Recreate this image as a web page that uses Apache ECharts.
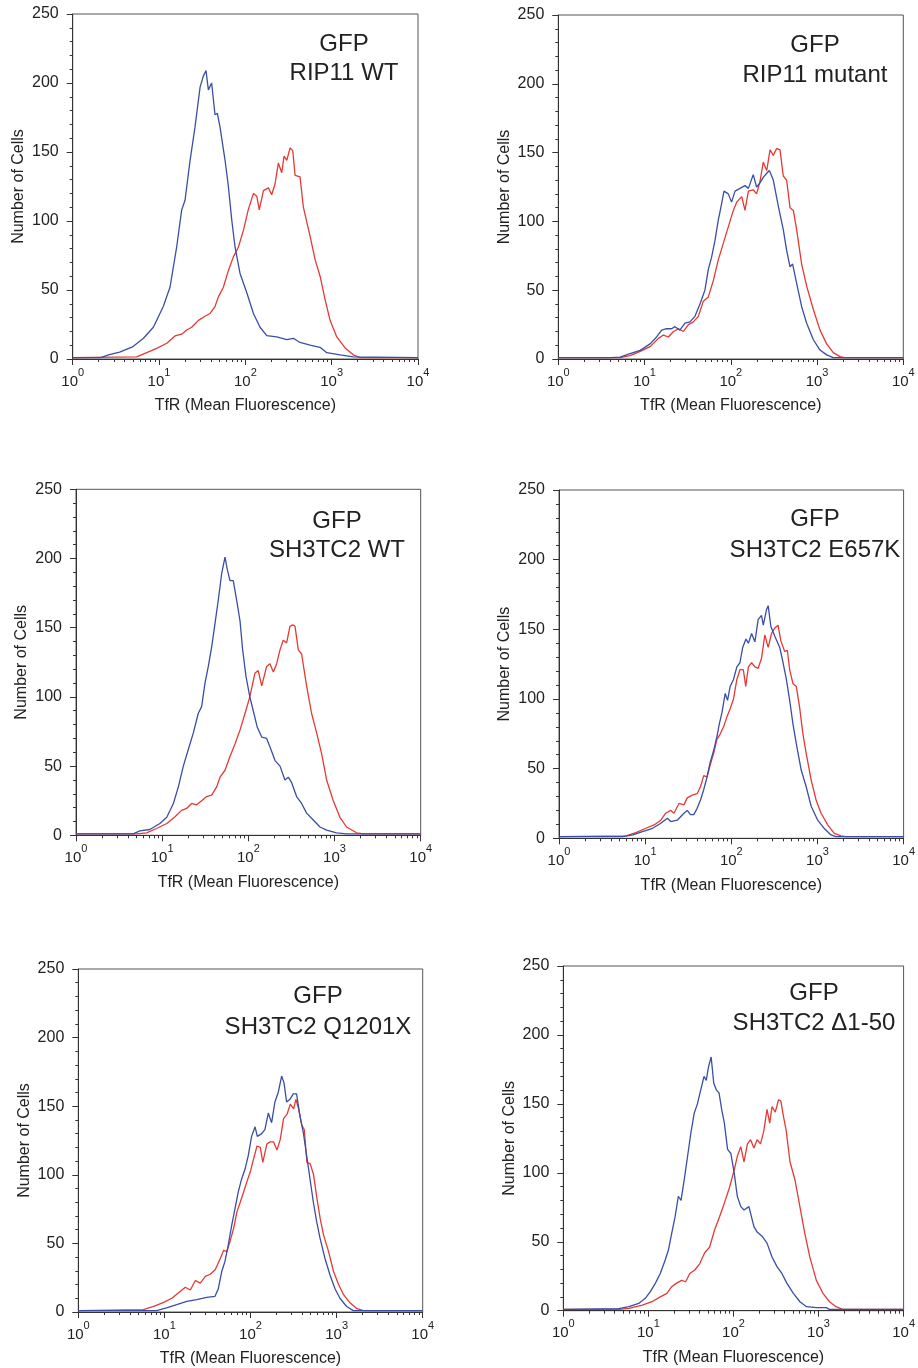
<!DOCTYPE html>
<html>
<head>
<meta charset="utf-8">
<script src="https://cdn.jsdelivr.net/npm/echarts@6/dist/echarts.min.js"></script>
<style>
html,body{margin:0;padding:0;background:#fff;}
#chart{width:918px;height:1368px;}
</style>
</head>
<body>
<div id="chart"></div>
<script>
// ---------- DATA ----------
const panelTitles = [
  ['GFP', 'RIP11 WT'],
  ['GFP', 'RIP11 mutant'],
  ['GFP', 'SH3TC2 WT'],
  ['GFP', 'SH3TC2 E657K'],
  ['GFP', 'SH3TC2 Q1201X'],
  ['GFP', 'SH3TC2 \u03941-50']
];
const xAxisName = 'TfR (Mean Fluorescence)';
const yAxisName = 'Number of Cells';
const xMajorTicks = [1, 10, 100, 1000, 10000];
const xMinorTicks = [2,3,4,5,6,7,8,9,20,30,40,50,60,70,80,90,200,300,400,500,600,700,800,900,2000,3000,4000,5000,6000,7000,8000,9000];
const yTicks = [0, 50, 100, 150, 200, 250];

// [fluorescence, number of cells]
const rip11WtRed = [[1,1],[5.5,1.5],[7.2,4.6],[9.4,7.7],[12.3,11.4],[15.3,16.7],[18.3,18],[20.9,21],[23.9,23],[28.6,28],[34.1,31],[39,33],[44.5,38],[48.7,45],[55.6,52],[63.6,64],[72.6,74],[83,81],[94.8,93],[108,108],[124,120],[135.6,118],[145,108],[162,122],[185,124],[202,119],[221,127],[241,142],[264,135],[281,147],[302,144],[330,153],[354,151],[377,133],[430,132],[470,110],[562,89],[643,72],[734,60],[839,43],[958,28],[1146,16],[1430,8],[1782,3],[2133,1],[10000,1]];
const rip11WtBlue = [[1,1],[2.1,1],[2.6,3],[3.5,5],[5,9],[6.6,15],[8.6,23],[11.2,38],[13.4,52],[16,81],[18.3,108],[20,115],[22.9,144],[26.1,168],[29.9,197],[32.6,205],[35,209],[37.3,195],[40.7,200],[44.5,177],[47.4,178],[50.9,168],[58.2,144],[63.6,125],[69.5,101],[76,81],[86.8,62],[104,48],[124,33],[148,23],[177,17],[231,16],[302,14],[360,15],[430,12],[562,10],[734,8.5],[877,4.6],[1250,3],[1780,1.5],[10000,1]];

const rip11MutRed = [[1,1],[5.2,1],[6.8,2.4],[8.9,5.5],[11.6,9],[14.5,15],[16.5,17.4],[18.9,16],[21.6,20],[24.7,22],[28.2,20],[32.2,25],[36.8,27],[42,31],[48,42],[54.8,45],[62.7,57],[71.6,72],[81.8,84],[93.5,96],[107,108],[117,114],[134,118],[146,108],[160,122],[182,123],[199,120],[218,129],[238,143],[261,137],[285,152],[311,148],[340,153],[372,152],[406,133],[444,130],[486,110],[531,108],[580,94],[663,69],[758,53],[906,36],[1082,21],[1292,11],[1543,4.6],[1845,1.7],[2100,1],[10000,1]];
const rip11MutBlue = [[1,1],[4,1],[5.2,1.4],[6.8,3.9],[8.9,6.3],[11.6,11],[13.8,16],[15.8,21],[18,22],[20.6,22],[22.5,23.5],[25.7,21],[29.4,26],[33.6,27],[38.4,31],[43.9,40],[50.1,50],[54.8,65],[59.9,74],[65.5,86],[71.6,101],[78.3,113],[83.4,122],[93.5,120],[102,114],[112,122],[128,124],[146,126],[160,124],[182,134],[199,125],[218,128],[238,132],[261,135],[280,137],[311,130],[356,111],[406,94],[444,79],[486,67],[521,69],[580,55],[663,38],[758,26],[906,14],[1082,6.5],[1292,3],[1543,1],[10000,1]];

const sh3tc2WtRed = [[1,1],[5.1,1],[6.6,1.8],[8.6,4.9],[11.3,8.5],[14.1,13.4],[16.8,18],[19.2,19.4],[22,23],[25.1,22],[28.7,25],[32.8,28],[37.5,29],[42.9,35],[46.9,42],[53.6,47],[61.2,57],[70,66],[80,76],[91.4,88],[104,100],[119,117],[130,119],[143,108],[163,122],[178,124],[195,118],[213,124],[233,134],[254,141],[278,139],[304,151],[327,152],[348,151],[380,134],[415,131],[474,108],[542,88],[620,74],[708,59],[810,40],[967,25],[1156,13],[1380,6],[1803,1.8],[2154,1],[10000,1]];
const sh3tc2WtBlue = [[1,1],[4.6,1],[5.5,3.2],[7.2,4.2],[9.4,8.5],[11.3,13],[13.5,23],[15.4,35],[17.6,50],[20.1,62],[23,74],[26.2,88],[28.7,93],[31.4,110],[34.3,122],[37.5,136],[41,153],[44.8,170],[49,189],[53.6,201],[57,192],[61.2,184],[66.8,184],[73.1,170],[80,155],[85.9,134],[93.8,115],[104,100],[114,90],[127,78],[143,71],[163,70],[178,64],[204,54],[233,50],[266,40],[291,42],[318,38],[363,28],[415,23],[474,16],[567,11],[678,6],[810,3.7],[1057,1.8],[1380,1],[10000,1]];

const e657kRed = [[1,1.2],[6,1.7],[7.8,4.1],[10.2,7.2],[12.7,9.6],[15.2,13],[17.3,18],[19.8,20],[21.6,18],[24.7,25],[28.2,24],[30.8,29],[35.2,31],[40.1,32],[43.9,37],[47.9,45],[52.3,44],[57.1,53],[62.4,61],[68.1,71],[74.5,75],[81.3,80],[88.8,87],[97,93],[106,100],[116,114],[126,121],[138,121],[147,109],[158,123],[172,126],[188,123],[205,122],[224,129],[245,146],[268,137],[293,147],[320,151],[349,153],[375,142],[417,134],[447,135],[476,121],[520,111],[568,109],[621,94],[678,75],[740,61],[845,42],[964,27.5],[1102,18],[1315,9.6],[1568,3.6],[1872,1.7],[2138,1.2],[10000,1.2]];
const e657kBlue = [[1,1.2],[5.5,1.2],[7.2,2.4],[9.3,4.8],[12.2,7.2],[15.2,10.8],[18.1,14.4],[19.8,12],[23.6,13],[28.2,18],[30.8,20],[33.6,17],[36.7,17],[40.1,21.5],[43.9,27.5],[47.9,35],[52.3,44],[57.1,55],[62.4,63],[68.1,73],[72.5,82],[77.8,90],[85,104],[90.4,99],[97,109],[106,114],[116,123],[126,126],[135.6,137],[148,143],[158,140],[172,147],[188,141],[205,157],[224,160],[235,153],[256,164],[268,167],[288,152],[320,145],[365,137],[399,126],[436,114],[476,99],[520,82],[568,68],[648,49],[740,37],[845,23],[1007,13],[1202,7],[1435,2.4],[1638,1.2],[10000,1.2]];

const q1201xRed = [[1,1],[5.7,1.7],[7.5,4.1],[9.8,7],[12.2,10],[14.6,14],[17.5,18],[20,16],[22.9,23],[26.1,21],[29.9,26],[34.1,27.5],[39,31],[44.6,39],[48.8,45],[53.2,44],[58.2,52],[63.7,61],[69.6,73],[76,80],[83.2,87.5],[90.9,95],[99.3,102],[109,112],[119,121],[130,120],[139,109],[155,122.5],[169,124],[185,124],[203,118],[222,126],[242,141],[265,144],[290,151.5],[317,148],[337,155],[362,148],[395,136],[421,133],[452,109],[494,108],[540,100],[590,83],[645,68],[706,56],[807,44],[922,29.5],[1054,20],[1205,12.6],[1440,6.5],[1722,2.4],[2058,1],[10000,1]];
const q1201xBlue = [[1,1],[8.1,1],[10.6,3],[13.9,5.3],[18.2,7.7],[23.7,9],[31,10.6],[38.7,11.4],[42.3,17],[46.3,29.5],[50.6,37],[55.2,49],[60.4,63],[65.9,75],[72.1,87.5],[78.9,97],[86.3,104],[94.2,114],[103,128],[113,135],[120,128],[135,130],[147,133],[161,145],[176,138],[192,153],[210,160],[230,172],[245,167],[263,153],[287,155],[314,159],[343,159],[375,143],[410,131],[449,114],[491,97],[537,80],[586,66],[641,54],[733,39],[838,27],[958,17],[1094,10],[1307,4],[1563,1],[10000,1]];

const delta150Red = [[1,1],[4.5,1],[5.9,1.7],[8.5,4.1],[11,6.5],[13.8,10],[16.5,12.6],[18.8,17.4],[21.5,20],[24.6,22],[27.4,21],[30.7,27],[35.1,29.5],[40.1,34],[45.9,42],[52.4,46],[60,58.5],[68.5,68],[78.2,78],[89.4,89],[102,102],[111,112],[122,119],[133,108],[146,121],[159,124],[174,118],[190,124],[208,121],[227,130],[248,146],[267,136],[284,148],[310,144],[339,153],[361,152],[387,141],[416,131],[462,108],[528,95],[604,75.5],[690,56],[789,39],[943,22],[1127,12.6],[1346,6.5],[1607,2.9],[1920,1],[10000,1]];
const delta150Blue = [[1,1],[4.5,1.5],[5.9,2.9],[7.7,5.3],[9.2,9],[10.6,14],[12.1,20],[13.8,27],[15.8,37],[17.2,44],[18.8,56],[20.6,68],[22.5,83],[24.2,80],[26.4,95],[28.9,112],[31.6,129],[34.5,143],[37.7,150],[41.2,160],[45.1,170],[47.9,167],[51,177],[54.7,184],[58.7,165],[63.1,160],[67.7,158],[72.7,146],[78.2,136],[85.3,117],[93.3,114],[102,100],[111,83],[122,75.5],[133,73],[152,75.5],[174,61],[190,57],[217,54],[248,49],[284,39],[325,32],[371,27],[424,20],[506,12.6],[604,6.5],[722,2.9],[943,2.2],[1231,2.2],[1346,1],[10000,1]];

const redSeries = [rip11WtRed, rip11MutRed, sh3tc2WtRed, e657kRed, q1201xRed, delta150Red];
const blueSeries = [rip11WtBlue, rip11MutBlue, sh3tc2WtBlue, e657kBlue, q1201xBlue, delta150Blue];

// ---------- LAYOUT / STYLE ----------
const gridRects = [
  {left: 72.7, top: 14, width: 345.3, height: 345},
  {left: 558.3, top: 15, width: 345, height: 344},
  {left: 76, top: 489.3, width: 344.7, height: 346},
  {left: 559, top: 490, width: 347.7, height: 348.3},
  {left: 78.3, top: 969, width: 344.4, height: 345},
  {left: 563.3, top: 966, width: 345.4, height: 344.7}
];
const titlePos = [
  {x: 344, y1: 44, y2: 73},
  {x: 815, y1: 45, y2: 75},
  {x: 337, y1: 521, y2: 550},
  {x: 815, y1: 519, y2: 550},
  {x: 318, y1: 996, y2: 1027},
  {x: 814, y1: 993, y2: 1023}
];
const FONT = '"Liberation Sans", Arial, Helvetica, sans-serif';
const TEXT = '#222';
const AXIS = '#333';
const RED = '#e53935';
const BLUE = '#3a4ea6';

const grids = [], xAxes = [], yAxes = [], series = [], graphics = [];
for (let i = 0; i < 6; i++) {
  grids.push(Object.assign({show: true, borderColor: '#555', borderWidth: 1, containLabel: false}, gridRects[i]));
  // main log x axis (decade ticks + labels)
  xAxes.push({
    type: 'log', logBase: 10, gridIndex: i, min: 1, max: 10000,
    name: xAxisName, nameLocation: 'middle', nameGap: 39,
    nameTextStyle: {fontSize: 16, color: TEXT, fontFamily: FONT},
    axisLine: {show: true, onZero: false, lineStyle: {color: AXIS, width: 1}},
    axisTick: {show: true, length: 6, customValues: xMajorTicks, lineStyle: {color: AXIS}},
    axisLabel: {
      customValues: xMajorTicks, margin: 8, color: TEXT, fontFamily: FONT,
      formatter: function (v) { return '{b|10}{s|' + Math.round(Math.log10(v)) + '}'; },
      rich: {
        b: {fontSize: 15, lineHeight: 22, verticalAlign: 'bottom', color: TEXT, fontFamily: FONT},
        s: {fontSize: 11, lineHeight: 22, verticalAlign: 'top', color: TEXT, fontFamily: FONT}
      }
    },
    splitLine: {show: false}
  });
  yAxes.push({
    type: 'value', gridIndex: i, min: 0, max: 250, interval: 50,
    name: yAxisName, nameLocation: 'middle', nameGap: 46, nameRotate: 90,
    nameTextStyle: {fontSize: 16, color: TEXT, fontFamily: FONT},
    axisLine: {show: true, lineStyle: {color: AXIS, width: 1}},
    axisTick: {show: true, length: 6, lineStyle: {color: AXIS}},
    minorTick: {show: true, splitNumber: 5, length: 3, lineStyle: {color: AXIS}},
    axisLabel: {fontSize: 16, margin: 14, color: TEXT, fontFamily: FONT},
    splitLine: {show: false}
  });
}
// minor-tick x axes (indices 6..11)
for (let i = 0; i < 6; i++) {
  xAxes.push({
    type: 'log', logBase: 10, gridIndex: i, min: 1, max: 10000, position: 'bottom',
    axisLine: {show: false},
    axisTick: {show: true, length: 3, customValues: xMinorTicks, lineStyle: {color: AXIS}},
    axisLabel: {show: false},
    splitLine: {show: false}
  });
}
for (let i = 0; i < 6; i++) {
  series.push({
    type: 'line', xAxisIndex: i, yAxisIndex: i, data: redSeries[i],
    showSymbol: false, symbol: 'none', silent: true,
    lineStyle: {color: RED, width: 1.3}, z: 3
  });
  series.push({
    type: 'line', xAxisIndex: i, yAxisIndex: i, data: blueSeries[i],
    showSymbol: false, symbol: 'none', silent: true,
    lineStyle: {color: BLUE, width: 1.3}, z: 4
  });
  const p = titlePos[i];
  graphics.push({type: 'text', x: p.x, y: p.y1, z: 10,
    style: {text: panelTitles[i][0], fill: TEXT, font: '24px ' + FONT, textAlign: 'center', textVerticalAlign: 'middle'}});
  graphics.push({type: 'text', x: p.x, y: p.y2, z: 10,
    style: {text: panelTitles[i][1], fill: TEXT, font: '24px ' + FONT, textAlign: 'center', textVerticalAlign: 'middle'}});
}

const chart = echarts.init(document.getElementById('chart'), null, {renderer: 'canvas'});
chart.setOption({
  animation: false,
  backgroundColor: '#fff',
  grid: grids,
  xAxis: xAxes,
  yAxis: yAxes,
  series: series,
  graphic: graphics
});
</script>
</body>
</html>
